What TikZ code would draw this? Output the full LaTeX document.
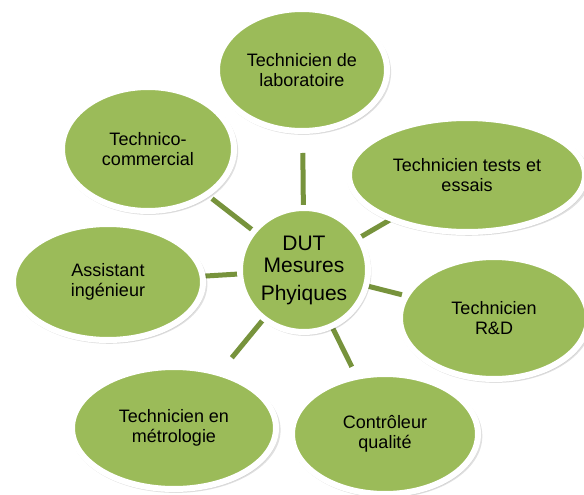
\documentclass[tikz,border=0pt]{standalone}
\usepackage{fontspec}
\setmainfont{Liberation Sans}
\usetikzlibrary{shapes.geometric,shadows}
\definecolor{leaf}{HTML}{9BBB59}
\definecolor{stem}{HTML}{77933C}
\pgfdeclarelayer{bg}
\pgfsetlayers{bg,main}
\begin{document}
\begin{tikzpicture}[x=1pt,y=-1pt,
  bubble/.style={ellipse, fill=leaf, draw=white, line width=6pt, inner sep=0pt,
    align=center, font=\fontsize{18}{19.5}\selectfont,
    general shadow={fill=black, opacity=0.12, shadow scale=1.03, shadow xshift=1.5pt, shadow yshift=-2pt},
    drop shadow={opacity=0.18, shadow xshift=2pt, shadow yshift=-3pt}},
  conn/.style={draw=stem, line width=5pt, shorten <=60pt}]
\useasboundingbox (0,0) rectangle (584,495);
\node[bubble, minimum width=128pt, minimum height=124pt, font=\fontsize{21}{22}\selectfont] (c) at (304,270) {DUT\\Mesures\\[6pt]Phyiques};
\node[bubble, minimum width=170pt, minimum height=122pt] (top) at (302,70) {Technicien de\\laboratoire};
\node[bubble, minimum width=236pt, minimum height=114pt] (tests) at (467,175) {Technicien tests et\\essais};
\node[bubble, minimum width=188pt, minimum height=122pt] (rd) at (494,318) {Technicien\\R\&D};
\node[bubble, minimum width=186pt, minimum height=120pt] (ctrl) at (385,434) {Contrôleur\\qualité};
\node[bubble, minimum width=204pt, minimum height=122pt] (metro) at (174,428) {Technicien en\\métrologie};
\node[bubble, minimum width=190pt, minimum height=116pt] (asst) at (108,282) {Assistant\\ingénieur};
\node[bubble, minimum width=172pt, minimum height=124pt] (techco) at (148,149) {Technico-\\commercial};
\begin{pgfonlayer}{bg}
\fill[white] (0,0) rectangle (584,495);
\draw[conn, shorten >=83pt] (c.center) -- (top.center);
\draw[conn, shorten >=81pt] (c.center) -- (techco.center);
\draw[conn, shorten >=95pt] (c.center) -- (asst.center);
\draw[conn, shorten >=91pt] (c.center) -- (metro.center);
\draw[conn, shorten >=75pt] (c.center) -- (ctrl.center);
\draw[conn, shorten >=95pt] (c.center) -- (rd.center);
\draw[conn, shorten >=79pt] (c.center) -- (tests.center);
\end{pgfonlayer}
\end{tikzpicture}
\end{document}
